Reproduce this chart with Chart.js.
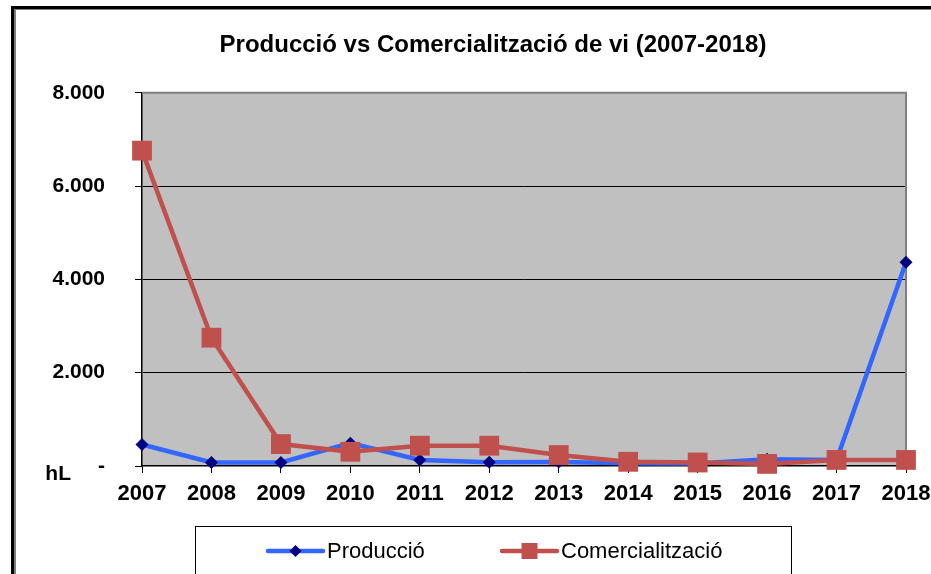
<!DOCTYPE html>
<html>
<head>
<meta charset="utf-8">
<script src="https://cdn.jsdelivr.net/npm/chart.js@4/dist/chart.umd.min.js"></script>
<style>
  html, body { margin: 0; padding: 0; background: #fff; overflow: hidden; }
  #wrap { position: relative; width: 931px; height: 574px; }
  #c { position: absolute; left: 0; top: 0; }
  .frame { position: absolute; pointer-events: none; }
</style>
</head>
<body>
<div id="wrap">
  <canvas id="c" width="931" height="574"></canvas>
  <div class="frame" style="left:11px;top:6px;width:940px;height:600px;border-left:3px solid #000;border-top:3px solid #000;"></div>
  <div class="frame" style="left:14px;top:9px;width:940px;height:600px;border-left:2px solid #7f7f7f;border-top:1px solid #7f7f7f;"></div>
</div>
<script>
const years = ['2007', '2008', '2009', '2010', '2011', '2012', '2013', '2014', '2015', '2016', '2017', '2018'];
const produccio = [460, 75, 75, 490, 130, 80, 85, 60, 55, 145, 130, 4370];
const comercialitzacio = [6760, 2750, 470, 305, 435, 435, 235, 90, 75, 45, 130, 130];
const seriesNames = ['Producció', 'Comercialització'];
const yMax = 8000;
const yStep = 2000;

const FONT = 'Liberation Sans, Arial, sans-serif';

// 8000 -> "8.000", 0 -> "-"
function fmtHl(v) {
  if (v === 0) return '-';
  return String(Math.round(v)).replace(/\B(?=(\d{3})+(?!\d))/g, '.');
}

const excelLook = {
  id: 'excelLook',
  afterLayout(chart) {
    // title sits centred a bit right of the canvas centre
    if (chart.titleBlock) chart.titleBlock.left = 80;
  },
  beforeDraw(chart) {
    const { ctx, chartArea: a } = chart;
    ctx.save();
    ctx.fillStyle = '#fff';
    ctx.fillRect(0, 0, chart.width, chart.height);
    ctx.fillStyle = '#c0c0c0';
    ctx.fillRect(a.left, a.top, a.right - a.left, a.bottom - a.top);
    ctx.restore();
  },
  beforeDatasetsDraw(chart) {
    const { ctx, chartArea: a } = chart;
    ctx.save();
    ctx.strokeStyle = '#808080';
    ctx.lineWidth = 2;
    ctx.beginPath();
    ctx.moveTo(a.left, a.top);
    ctx.lineTo(a.right, a.top);
    ctx.lineTo(a.right, a.bottom);
    ctx.stroke();
    ctx.restore();
  },
  afterDraw(chart) {
    const { ctx } = chart;
    const y0 = chart.scales.y.getPixelForValue(0);
    ctx.save();
    // unit label next to the zero tick
    ctx.fillStyle = '#000';
    ctx.font = 'bold 21px ' + FONT;
    ctx.textAlign = 'right';
    ctx.textBaseline = 'middle';
    ctx.fillText('hL', 71, y0 + 8);

    // legend box
    ctx.strokeStyle = '#000';
    ctx.lineWidth = 1;
    ctx.strokeRect(195.5, 526.5, 596, 80);

    const items = [{ ds: chart.data.datasets[0], x: 268 }, { ds: chart.data.datasets[1], x: 502 }];
    const ly = 551;
    items.forEach(({ ds, x }) => {
      ctx.strokeStyle = ds.borderColor;
      ctx.lineWidth = ds.borderWidth;
      ctx.lineCap = 'round';
      ctx.beginPath();
      ctx.moveTo(x, ly);
      ctx.lineTo(x + 55, ly);
      ctx.stroke();
      const cx = x + 27.5;
      ctx.fillStyle = ds.pointBackgroundColor;
      ctx.beginPath();
      if (ds.pointStyle === 'rect') {
        ctx.rect(cx - 8, ly - 8, 16, 16);
      } else {
        ctx.moveTo(cx, ly - 6);
        ctx.lineTo(cx + 6, ly);
        ctx.lineTo(cx, ly + 6);
        ctx.lineTo(cx - 6, ly);
        ctx.closePath();
      }
      ctx.fill();
      ctx.fillStyle = '#000';
      ctx.font = '22px ' + FONT;
      ctx.textAlign = 'left';
      ctx.fillText(ds.label, x + 59, ly + 1);
    });
    ctx.restore();
  }
};

new Chart(document.getElementById('c'), {
  type: 'line',
  data: {
    labels: years,
    datasets: [
      {
        label: seriesNames[0], data: produccio, order: 2, clip: false,
        borderColor: '#3366ff', borderWidth: 4.5, tension: 0,
        pointStyle: 'rectRot', pointRadius: 6.5, pointBackgroundColor: '#000080', pointBorderColor: '#000080', pointBorderWidth: 0
      },
      {
        label: seriesNames[1], data: comercialitzacio, order: 1, clip: false,
        borderColor: '#c0504d', borderWidth: 4.5, tension: 0,
        pointStyle: 'rect', pointRadius: 14, pointBackgroundColor: '#c0504d', pointBorderColor: '#c0504d', pointBorderWidth: 0
      }
    ]
  },
  options: {
    responsive: false, animation: false, devicePixelRatio: 1,
    layout: { padding: { left: 0, right: 25, top: 0, bottom: 0 } },
    plugins: {
      legend: { display: false },
      tooltip: { enabled: false },
      title: {
        display: true, text: 'Producció vs Comercialització de vi (2007-2018)', color: '#000',
        font: { family: FONT, size: 24, weight: 'bold' },
        padding: { top: 31, bottom: 33 }
      }
    },
    scales: {
      x: {
        grid: { drawOnChartArea: false, drawTicks: true, tickLength: 7, tickColor: '#000' },
        border: { color: '#000', width: 1.5 },
        ticks: { color: '#000', font: { family: FONT, size: 22, weight: 'bold' }, padding: 8, maxRotation: 0, autoSkip: false },
        afterFit: s => { s.height = 108; s.paddingLeft = 0; s.paddingRight = 0; }
      },
      y: {
        min: 0, max: yMax,
        grid: {
          color: c => (c.tick.value === 0 || c.tick.value === yMax) ? 'rgba(0,0,0,0)' : '#000',
          tickColor: '#000', tickLength: 7, lineWidth: 1
        },
        border: { color: '#000', width: 1.5 },
        ticks: { stepSize: yStep, color: '#000', font: { family: FONT, size: 21, weight: 'bold' }, padding: 30, callback: v => fmtHl(v) },
        afterFit: s => { s.width = 142; s.paddingTop = 0; s.paddingBottom = 0; }
      }
    }
  },
  plugins: [excelLook]
});
</script>
</body>
</html>
